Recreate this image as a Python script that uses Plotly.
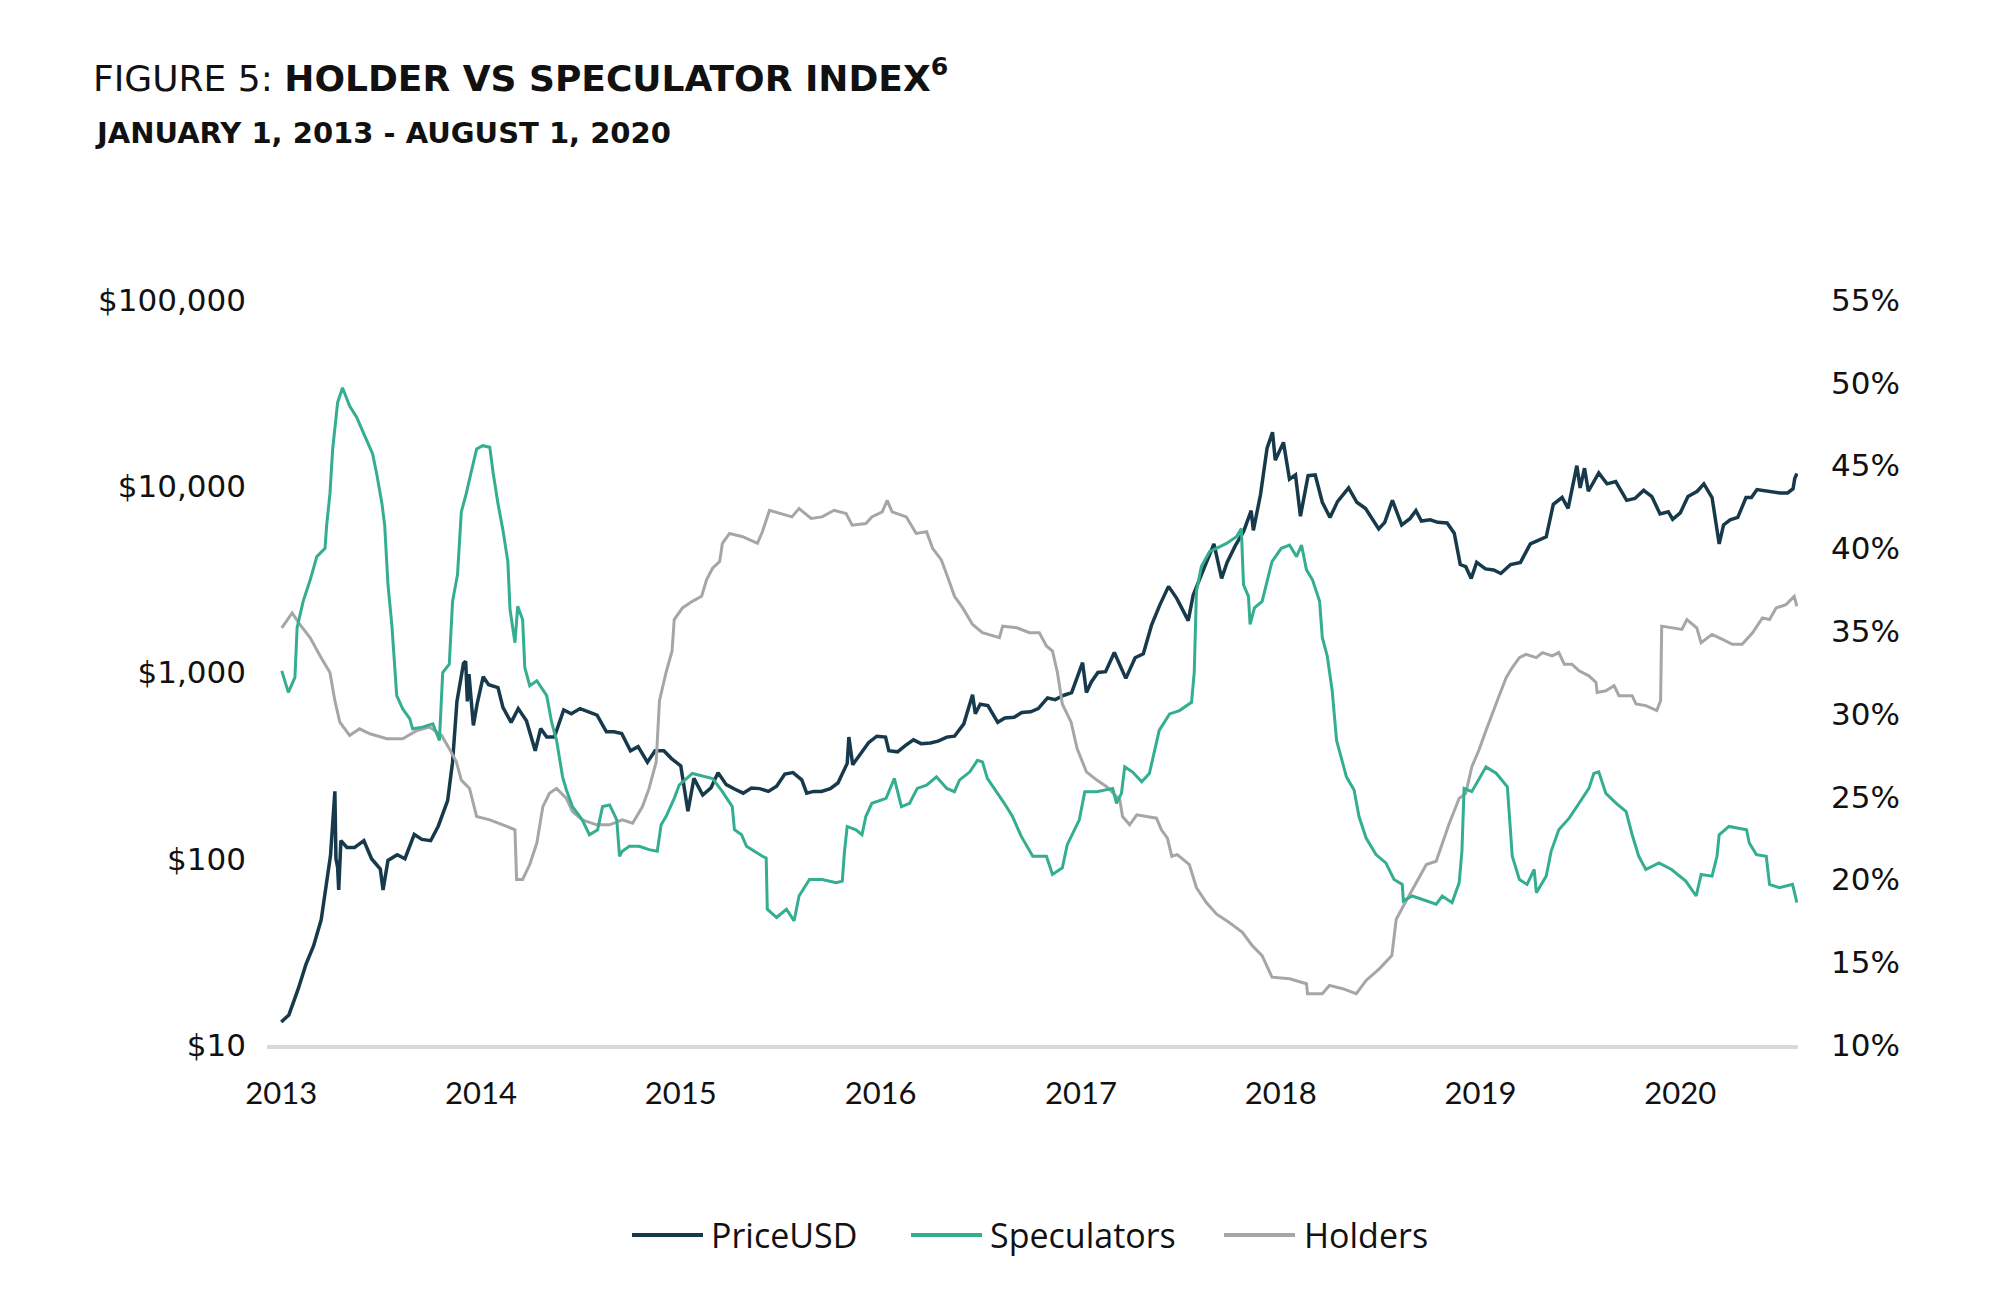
import plotly.graph_objects as go

# ---------------- data ----------------
price_series = [
    ("2013-01-01", 13.3), ("2013-01-15", 14.5), ("2013-02-01", 20), ("2013-02-15", 27),
    ("2013-03-01", 34), ("2013-03-15", 47), ("2013-03-25", 75), ("2013-04-01", 104),
    ("2013-04-09", 230), ("2013-04-11", 100), ("2013-04-14", 90), ("2013-04-16", 68),
    ("2013-04-20", 125), ("2013-05-01", 115), ("2013-05-15", 115), ("2013-06-01", 125),
    ("2013-06-15", 100), ("2013-07-01", 88), ("2013-07-06", 68), ("2013-07-15", 98),
    ("2013-08-01", 105), ("2013-08-15", 100), ("2013-09-01", 135), ("2013-09-15", 127),
    ("2013-10-01", 125), ("2013-10-15", 150), ("2013-11-01", 205), ("2013-11-10", 330),
    ("2013-11-18", 700), ("2013-11-30", 1120), ("2013-12-04", 1150), ("2013-12-07", 700),
    ("2013-12-10", 980), ("2013-12-18", 520), ("2013-12-25", 680), ("2014-01-05", 950),
    ("2014-01-15", 860), ("2014-02-01", 830), ("2014-02-10", 650), ("2014-02-25", 540),
    ("2014-03-10", 640), ("2014-03-25", 550), ("2014-04-10", 380), ("2014-04-20", 500),
    ("2014-05-01", 450), ("2014-05-15", 450), ("2014-06-01", 630), ("2014-06-15", 600),
    ("2014-07-01", 640), ("2014-07-15", 620), ("2014-08-01", 590), ("2014-08-18", 480),
    ("2014-09-01", 480), ("2014-09-15", 470), ("2014-10-01", 380), ("2014-10-15", 400),
    ("2014-11-01", 330), ("2014-11-15", 380), ("2014-12-01", 380), ("2014-12-15", 345),
    ("2015-01-01", 315), ("2015-01-14", 180), ("2015-01-25", 270), ("2015-02-10", 220),
    ("2015-02-25", 240), ("2015-03-10", 290), ("2015-03-25", 250), ("2015-04-10", 236),
    ("2015-04-25", 225), ("2015-05-10", 240), ("2015-05-25", 238), ("2015-06-10", 230),
    ("2015-06-25", 245), ("2015-07-10", 285), ("2015-07-25", 290), ("2015-08-10", 265),
    ("2015-08-19", 225), ("2015-09-01", 230), ("2015-09-15", 230), ("2015-10-01", 238),
    ("2015-10-15", 255), ("2015-11-01", 325), ("2015-11-04", 450), ("2015-11-11", 320),
    ("2015-11-25", 365), ("2015-12-10", 420), ("2015-12-25", 455), ("2016-01-10", 450),
    ("2016-01-16", 380), ("2016-02-01", 375), ("2016-02-15", 405), ("2016-03-01", 435),
    ("2016-03-15", 415), ("2016-04-01", 418), ("2016-04-15", 428), ("2016-05-01", 450),
    ("2016-05-15", 455), ("2016-06-01", 530), ("2016-06-17", 760), ("2016-06-22", 600),
    ("2016-07-01", 675), ("2016-07-15", 665), ("2016-08-02", 540), ("2016-08-15", 570),
    ("2016-09-01", 575), ("2016-09-15", 610), ("2016-10-01", 615), ("2016-10-15", 640),
    ("2016-11-01", 730), ("2016-11-15", 715), ("2016-12-01", 755), ("2016-12-15", 780),
    ("2017-01-04", 1130), ("2017-01-11", 780), ("2017-01-20", 890), ("2017-02-01", 1000),
    ("2017-02-15", 1010), ("2017-03-03", 1280), ("2017-03-24", 930), ("2017-04-10", 1200),
    ("2017-04-25", 1260), ("2017-05-10", 1800), ("2017-05-25", 2300), ("2017-06-10", 2900),
    ("2017-06-25", 2500), ("2017-07-16", 1900), ("2017-07-25", 2600), ("2017-08-10", 3400),
    ("2017-08-25", 4300), ("2017-09-01", 4900), ("2017-09-15", 3200), ("2017-09-25", 3900),
    ("2017-10-10", 4800), ("2017-10-25", 5700), ("2017-11-08", 7400), ("2017-11-12", 5800),
    ("2017-11-25", 9000), ("2017-12-07", 16000), ("2017-12-17", 19500), ("2017-12-22", 13800),
    ("2018-01-06", 17200), ("2018-01-17", 10900), ("2018-01-28", 11500), ("2018-02-06", 6900),
    ("2018-02-20", 11400), ("2018-03-05", 11500), ("2018-03-18", 8200), ("2018-04-01", 6800),
    ("2018-04-15", 8300), ("2018-05-05", 9800), ("2018-05-20", 8200), ("2018-06-05", 7600),
    ("2018-06-29", 5900), ("2018-07-10", 6400), ("2018-07-24", 8400), ("2018-08-10", 6200),
    ("2018-08-25", 6700), ("2018-09-05", 7400), ("2018-09-15", 6500), ("2018-10-01", 6600),
    ("2018-10-15", 6400), ("2018-11-01", 6350), ("2018-11-14", 5600), ("2018-11-25", 3800),
    ("2018-12-05", 3700), ("2018-12-15", 3200), ("2018-12-25", 3900), ("2019-01-10", 3600),
    ("2019-01-25", 3550), ("2019-02-07", 3400), ("2019-02-25", 3800), ("2019-03-15", 3900),
    ("2019-04-02", 4900), ("2019-04-15", 5100), ("2019-05-01", 5350), ("2019-05-14", 8000),
    ("2019-05-30", 8700), ("2019-06-10", 7600), ("2019-06-26", 12900), ("2019-07-02", 9800),
    ("2019-07-10", 12500), ("2019-07-17", 9400), ("2019-08-05", 11800), ("2019-08-20", 10300),
    ("2019-09-05", 10600), ("2019-09-25", 8400), ("2019-10-10", 8600), ("2019-10-26", 9500),
    ("2019-11-10", 8800), ("2019-11-25", 7100), ("2019-12-10", 7300), ("2019-12-18", 6650),
    ("2020-01-01", 7200), ("2020-01-15", 8800), ("2020-02-01", 9400), ("2020-02-13", 10300),
    ("2020-02-28", 8700), ("2020-03-12", 4900), ("2020-03-20", 6200), ("2020-04-01", 6600),
    ("2020-04-15", 6800), ("2020-04-30", 8700), ("2020-05-10", 8700), ("2020-05-20", 9600),
    ("2020-06-01", 9500), ("2020-06-15", 9400), ("2020-07-01", 9200), ("2020-07-15", 9200),
    ("2020-07-25", 9700), ("2020-07-28", 11000), ("2020-08-01", 11700),
]

speculators_series = [
    ("2013-01-02", 32.6), ("2013-01-14", 31.3), ("2013-01-26", 32.2), ("2013-01-30", 35.2),
    ("2013-02-10", 36.8), ("2013-02-23", 38.1), ("2013-03-07", 39.5), ("2013-03-22", 40.0),
    ("2013-03-25", 41.4), ("2013-03-31", 43.3), ("2013-04-05", 46.0), ("2013-04-14", 48.8),
    ("2013-04-23", 49.7), ("2013-05-06", 48.6), ("2013-05-19", 47.9), ("2013-06-06", 46.5),
    ("2013-06-17", 45.7), ("2013-06-25", 44.4), ("2013-07-04", 42.7), ("2013-07-09", 41.4),
    ("2013-07-15", 37.8), ("2013-07-22", 35.4), ("2013-07-27", 33.2), ("2013-07-31", 31.1),
    ("2013-08-11", 30.3), ("2013-08-24", 29.7), ("2013-08-29", 29.1), ("2013-09-16", 29.2),
    ("2013-10-05", 29.4), ("2013-10-17", 28.4), ("2013-10-23", 32.5), ("2013-11-04", 33.0),
    ("2013-11-10", 36.8), ("2013-11-19", 38.4), ("2013-11-26", 42.2), ("2013-12-05", 43.3),
    ("2013-12-14", 44.6), ("2013-12-24", 46.0), ("2014-01-04", 46.2), ("2014-01-17", 46.1),
    ("2014-01-23", 44.6), ("2014-02-01", 42.7), ("2014-02-10", 41.1), ("2014-02-19", 39.2),
    ("2014-02-23", 36.3), ("2014-03-04", 34.3), ("2014-03-09", 36.5), ("2014-03-18", 35.7),
    ("2014-03-22", 32.8), ("2014-03-31", 31.7), ("2014-04-13", 32.0), ("2014-05-01", 31.1),
    ("2014-05-10", 29.5), ("2014-05-19", 28.4), ("2014-05-30", 26.2), ("2014-06-06", 25.4),
    ("2014-06-17", 24.4), ("2014-07-05", 23.6), ("2014-07-18", 22.7), ("2014-08-02", 23.0),
    ("2014-08-11", 24.4), ("2014-08-24", 24.5), ("2014-09-06", 23.6), ("2014-09-11", 21.4),
    ("2014-09-16", 21.7), ("2014-09-29", 22.0), ("2014-10-17", 22.0), ("2014-11-04", 21.8),
    ("2014-11-19", 21.7), ("2014-11-26", 23.3), ("2014-12-05", 23.8), ("2014-12-20", 24.9),
    ("2014-12-29", 25.7), ("2015-01-22", 26.4), ("2015-02-28", 26.1), ("2015-03-18", 25.3),
    ("2015-04-05", 24.4), ("2015-04-09", 23.0), ("2015-04-22", 22.7), ("2015-05-01", 22.0),
    ("2015-05-30", 21.4), ("2015-06-06", 21.3), ("2015-06-08", 18.2), ("2015-06-25", 17.7),
    ("2015-07-13", 18.2), ("2015-07-27", 17.5), ("2015-08-05", 19.0), ("2015-08-24", 20.0),
    ("2015-09-16", 20.0), ("2015-10-12", 19.8), ("2015-10-23", 19.9), ("2015-10-27", 21.7),
    ("2015-11-01", 23.2), ("2015-11-17", 23.0), ("2015-11-28", 22.7), ("2015-12-05", 23.8),
    ("2015-12-16", 24.6), ("2016-01-11", 24.9), ("2016-01-26", 26.1), ("2016-02-08", 24.4),
    ("2016-02-23", 24.6), ("2016-03-08", 25.5), ("2016-03-25", 25.7), ("2016-04-12", 26.2),
    ("2016-05-01", 25.5), ("2016-05-15", 25.3), ("2016-05-24", 26.0), ("2016-06-12", 26.5),
    ("2016-06-26", 27.2), ("2016-07-05", 27.1), ("2016-07-14", 26.1), ("2016-07-31", 25.3),
    ("2016-08-14", 24.6), ("2016-08-29", 23.8), ("2016-09-14", 22.6), ("2016-10-05", 21.4),
    ("2016-10-30", 21.4), ("2016-11-10", 20.3), ("2016-11-28", 20.7), ("2016-12-07", 22.1),
    ("2016-12-29", 23.6), ("2017-01-08", 25.3), ("2017-01-30", 25.3), ("2017-02-28", 25.5),
    ("2017-03-07", 24.6), ("2017-03-16", 25.2), ("2017-03-22", 26.8), ("2017-04-05", 26.5),
    ("2017-04-22", 25.9), ("2017-05-06", 26.4), ("2017-05-24", 29.0), ("2017-06-12", 30.0),
    ("2017-06-30", 30.2), ("2017-07-22", 30.7), ("2017-07-27", 32.5), ("2017-07-31", 37.4),
    ("2017-08-09", 38.9), ("2017-08-24", 39.8), ("2017-09-06", 40.0), ("2017-09-24", 40.3),
    ("2017-10-12", 40.7), ("2017-10-21", 41.2), ("2017-10-25", 37.8), ("2017-11-03", 37.1),
    ("2017-11-06", 35.4), ("2017-11-14", 36.4), ("2017-11-28", 36.8), ("2017-12-07", 38.1),
    ("2017-12-16", 39.2), ("2018-01-02", 40.0), ("2018-01-17", 40.2), ("2018-01-30", 39.5),
    ("2018-02-08", 40.2), ("2018-02-17", 38.7), ("2018-02-28", 38.1), ("2018-03-13", 36.8),
    ("2018-03-18", 34.6), ("2018-03-27", 33.5), ("2018-04-05", 31.4), ("2018-04-13", 28.4),
    ("2018-05-01", 26.2), ("2018-05-15", 25.4), ("2018-05-24", 23.8), ("2018-06-06", 22.5),
    ("2018-06-24", 21.5), ("2018-07-12", 21.0), ("2018-07-27", 20.0), ("2018-08-11", 19.7),
    ("2018-08-13", 18.7), ("2018-08-29", 19.0), ("2018-09-16", 18.8), ("2018-10-12", 18.5),
    ("2018-10-23", 19.0), ("2018-11-10", 18.6), ("2018-11-23", 19.8), ("2018-11-28", 21.7),
    ("2018-12-02", 25.5), ("2018-12-16", 25.3), ("2019-01-11", 26.8), ("2019-01-30", 26.4),
    ("2019-02-19", 25.6), ("2019-02-28", 21.4), ("2019-03-13", 20.0), ("2019-03-27", 19.7),
    ("2019-04-09", 20.6), ("2019-04-13", 19.2), ("2019-05-01", 20.2), ("2019-05-10", 21.7),
    ("2019-05-24", 23.0), ("2019-06-12", 23.7), ("2019-06-30", 24.6), ("2019-07-18", 25.5),
    ("2019-07-27", 26.4), ("2019-08-05", 26.5), ("2019-08-18", 25.2), ("2019-09-06", 24.6),
    ("2019-09-24", 24.1), ("2019-10-05", 22.7), ("2019-10-17", 21.4), ("2019-10-30", 20.6),
    ("2019-11-23", 21.0), ("2019-12-16", 20.6), ("2020-01-11", 19.9), ("2020-01-30", 19.0),
    ("2020-02-08", 20.3), ("2020-02-28", 20.2), ("2020-03-08", 21.4), ("2020-03-12", 22.7),
    ("2020-03-30", 23.2), ("2020-05-01", 23.0), ("2020-05-06", 22.2), ("2020-05-19", 21.5),
    ("2020-06-06", 21.4), ("2020-06-12", 19.7), ("2020-06-30", 19.5), ("2020-07-24", 19.7),
    ("2020-08-01", 18.6),
]

holders_series = [
    ("2013-01-02", 35.2), ("2013-01-21", 36.1), ("2013-02-04", 35.4), ("2013-02-23", 34.6),
    ("2013-03-13", 33.5), ("2013-03-31", 32.5), ("2013-04-09", 30.8), ("2013-04-18", 29.5),
    ("2013-05-06", 28.7), ("2013-05-24", 29.1), ("2013-06-12", 28.8), ("2013-07-13", 28.5),
    ("2013-08-11", 28.5), ("2013-09-06", 29.0), ("2013-09-29", 29.2), ("2013-10-21", 28.7),
    ("2013-11-04", 27.9), ("2013-11-17", 27.1), ("2013-11-26", 26.0), ("2013-12-11", 25.5),
    ("2013-12-24", 23.8), ("2014-01-17", 23.6), ("2014-02-10", 23.3), ("2014-03-04", 23.0),
    ("2014-03-07", 20.0), ("2014-03-18", 20.0), ("2014-03-31", 20.9), ("2014-04-13", 22.2),
    ("2014-04-24", 24.4), ("2014-05-06", 25.2), ("2014-05-19", 25.5), ("2014-06-06", 24.9),
    ("2014-06-17", 24.1), ("2014-07-05", 23.6), ("2014-07-31", 23.3), ("2014-08-24", 23.3),
    ("2014-09-16", 23.6), ("2014-10-05", 23.4), ("2014-10-23", 24.4), ("2014-11-04", 25.5),
    ("2014-11-17", 27.1), ("2014-11-23", 30.8), ("2014-12-05", 32.5), ("2014-12-16", 33.8),
    ("2014-12-20", 35.7), ("2015-01-04", 36.4), ("2015-01-22", 36.8), ("2015-02-08", 37.1),
    ("2015-02-17", 38.1), ("2015-02-28", 38.8), ("2015-03-13", 39.2), ("2015-03-18", 40.3),
    ("2015-03-31", 40.9), ("2015-04-24", 40.7), ("2015-05-21", 40.3), ("2015-05-30", 41.0),
    ("2015-06-12", 42.3), ("2015-07-05", 42.1), ("2015-07-23", 41.9), ("2015-08-05", 42.4),
    ("2015-08-27", 41.8), ("2015-09-16", 41.9), ("2015-10-08", 42.3), ("2015-10-30", 42.1),
    ("2015-11-10", 41.4), ("2015-12-05", 41.5), ("2015-12-16", 41.9), ("2016-01-04", 42.2),
    ("2016-01-13", 42.9), ("2016-01-22", 42.2), ("2016-02-17", 41.9), ("2016-03-06", 40.9),
    ("2016-03-25", 41.0), ("2016-04-05", 40.0), ("2016-04-21", 39.3), ("2016-05-01", 38.4),
    ("2016-05-15", 37.1), ("2016-05-30", 36.4), ("2016-06-17", 35.4), ("2016-07-05", 34.9),
    ("2016-08-05", 34.6), ("2016-08-11", 35.3), ("2016-09-06", 35.2), ("2016-09-29", 34.9),
    ("2016-10-17", 34.9), ("2016-10-30", 34.1), ("2016-11-10", 33.8), ("2016-11-19", 32.5),
    ("2016-11-28", 30.6), ("2016-12-14", 29.5), ("2016-12-25", 27.9), ("2017-01-11", 26.5),
    ("2017-01-30", 26.0), ("2017-02-17", 25.6), ("2017-03-13", 24.8), ("2017-03-18", 23.8),
    ("2017-03-31", 23.3), ("2017-04-13", 23.9), ("2017-05-19", 23.7), ("2017-05-28", 23.0),
    ("2017-06-08", 22.5), ("2017-06-16", 21.4), ("2017-06-26", 21.5), ("2017-07-18", 20.9),
    ("2017-07-31", 19.5), ("2017-08-18", 18.6), ("2017-09-06", 17.9), ("2017-09-29", 17.4),
    ("2017-10-23", 16.8), ("2017-11-10", 16.0), ("2017-11-28", 15.4), ("2017-12-16", 14.1),
    ("2018-01-17", 14.0), ("2018-02-17", 13.7), ("2018-02-19", 13.1), ("2018-03-18", 13.1),
    ("2018-03-31", 13.6), ("2018-04-24", 13.4), ("2018-05-19", 13.1), ("2018-06-06", 13.9),
    ("2018-06-30", 14.6), ("2018-07-23", 15.4), ("2018-07-31", 17.6), ("2018-08-18", 18.7),
    ("2018-09-06", 19.8), ("2018-09-24", 20.9), ("2018-10-12", 21.1), ("2018-10-23", 22.2),
    ("2018-11-04", 23.3), ("2018-11-23", 24.9), ("2018-12-05", 25.2), ("2018-12-16", 26.8),
    ("2018-12-29", 27.8), ("2019-01-11", 29.0), ("2019-01-22", 30.0), ("2019-02-04", 31.1),
    ("2019-02-17", 32.2), ("2019-02-28", 32.8), ("2019-03-13", 33.4), ("2019-03-25", 33.6),
    ("2019-04-13", 33.4), ("2019-04-24", 33.7), ("2019-05-12", 33.5), ("2019-05-24", 33.7),
    ("2019-06-03", 33.0), ("2019-06-17", 33.0), ("2019-06-30", 32.6), ("2019-07-18", 32.3),
    ("2019-07-31", 31.9), ("2019-08-02", 31.3), ("2019-08-18", 31.4), ("2019-09-02", 31.7),
    ("2019-09-11", 31.1), ("2019-10-05", 31.1), ("2019-10-12", 30.6), ("2019-10-30", 30.5),
    ("2019-11-19", 30.2), ("2019-11-26", 30.8), ("2019-11-28", 35.3), ("2019-12-16", 35.2),
    ("2020-01-04", 35.1), ("2020-01-13", 35.7), ("2020-01-31", 35.2), ("2020-02-08", 34.3),
    ("2020-02-28", 34.8), ("2020-03-18", 34.5), ("2020-04-05", 34.2), ("2020-04-23", 34.2),
    ("2020-05-12", 34.9), ("2020-05-30", 35.8), ("2020-06-12", 35.7), ("2020-06-24", 36.4),
    ("2020-07-12", 36.6), ("2020-07-27", 37.1), ("2020-08-01", 36.5),
]

price_ticks = [10, 100, 1000, 10000, 100000]
price_tick_labels = ["$10", "$100", "$1,000", "$10,000", "$100,000"]
pct_ticks = [10, 15, 20, 25, 30, 35, 40, 45, 50, 55]
pct_tick_labels = ["10%", "15%", "20%", "25%", "30%", "35%", "40%", "45%", "50%", "55%"]
year_ticks = ["2013-01-01", "2014-01-01", "2015-01-01", "2016-01-01",
              "2017-01-01", "2018-01-01", "2019-01-01", "2020-01-01"]
year_tick_labels = ["2013", "2014", "2015", "2016", "2017", "2018", "2019", "2020"]
legend_names = ["PriceUSD", "Speculators", "Holders"]

# ---------------- figure ----------------
YEAR_FONT = "Lato"
TICK_FONT = "DejaVu Sans"
TITLE_FONT = "DejaVu Sans"
LEGEND_FONT = "Open Sans"
TXT = "#111111"
C_PRICE = "#163a4c"
C_SPEC = "#33ae90"
C_HOLD = "#a6a6a8"
colors = [C_PRICE, C_SPEC, C_HOLD]

# page body has an 8px margin; figure sized so the plot lands where the reference has it
W, H = 2002, 1282
ML, MR, MT, MB = 259, 212, 292, 245
PW, PH = W - ML - MR, H - MT - MB   # plot area size in px


def px_x(X):   # page x (px) -> paper fraction
    return (X - 8 - ML) / PW


def px_y(Y):   # page y (px) -> paper fraction
    return (H - MB + 8 - Y) / PH


fig = go.Figure()
fig.add_trace(go.Scatter(
    x=[d for d, _ in holders_series], y=[v for _, v in holders_series],
    name="Holders", mode="lines", line=dict(color=C_HOLD, width=3), yaxis="y2"))
fig.add_trace(go.Scatter(
    x=[d for d, _ in speculators_series], y=[v for _, v in speculators_series],
    name="Speculators", mode="lines", line=dict(color=C_SPEC, width=3), yaxis="y2"))
fig.add_trace(go.Scatter(
    x=[d for d, _ in price_series], y=[v for _, v in price_series],
    name="PriceUSD", mode="lines", line=dict(color=C_PRICE, width=3.5), yaxis="y"))

# custom legend (longer line swatches, wider spacing, as in the reference)
legend_line_x = [(632, 703), (911, 982), (1224, 1295)]
legend_text_x = [709, 988, 1302]
shapes = []
annotations = []
ly = px_y(1235)
for name, col, (a, b), tx in zip(legend_names, colors, legend_line_x, legend_text_x):
    shapes.append(dict(type="line", xref="paper", yref="paper",
                       x0=px_x(a), x1=px_x(b), y0=ly, y1=ly,
                       line=dict(color=col, width=4)))
    annotations.append(dict(text=name, xref="paper", yref="paper",
                            x=px_x(tx), y=ly, xanchor="left", yanchor="middle",
                            showarrow=False,
                            font=dict(family=LEGEND_FONT, size=34, color=TXT)))

annotations.append(dict(
    text="<b>JANUARY 1, 2013 - AUGUST 1, 2020</b>",
    xref="paper", yref="paper",
    x=px_x(93), y=px_y(133),
    xanchor="left", yanchor="middle", showarrow=False,
    font=dict(family=TITLE_FONT, size=29, color=TXT),
))

fig.update_layout(
    width=W, height=H,
    paper_bgcolor="white", plot_bgcolor="white",
    margin=dict(l=ML, r=MR, t=MT, b=MB),
    font=dict(family=TICK_FONT, size=31, color=TXT),
    showlegend=False,
    title=dict(
        text="FIGURE 5: <b>HOLDER VS SPECULATOR INDEX<sup>6</sup></b>",
        x=(93 - 8) / W, xanchor="left", xref="container",
        y=1 - (78 - 8) / H, yanchor="middle", yref="container",
        font=dict(family=TITLE_FONT, size=36, color=TXT),
    ),
    shapes=shapes,
    annotations=annotations,
    xaxis=dict(
        type="date", range=["2012-12-06", "2020-08-03"],
        tickvals=year_ticks, ticktext=year_tick_labels,
        showgrid=False, zeroline=False, ticks="",
        showline=True, linecolor="#d9d9d9", linewidth=4,
        tickfont=dict(family=YEAR_FONT, size=31, color=TXT),
        ticklabelstandoff=18,
    ),
    yaxis=dict(
        type="log", range=[1, 5],
        tickvals=price_ticks, ticktext=price_tick_labels,
        showgrid=False, zeroline=False, showline=False, ticks="",
        tickfont=dict(family=TICK_FONT, size=31, color=TXT),
        ticklabelstandoff=20,
    ),
    yaxis2=dict(
        overlaying="y", side="right", range=[10, 55],
        tickvals=pct_ticks, ticktext=pct_tick_labels,
        showgrid=False, zeroline=False, showline=False, ticks="",
        tickfont=dict(family=TICK_FONT, size=31, color=TXT),
        ticklabelstandoff=32,
    ),
)

fig.write_html("out.html")
